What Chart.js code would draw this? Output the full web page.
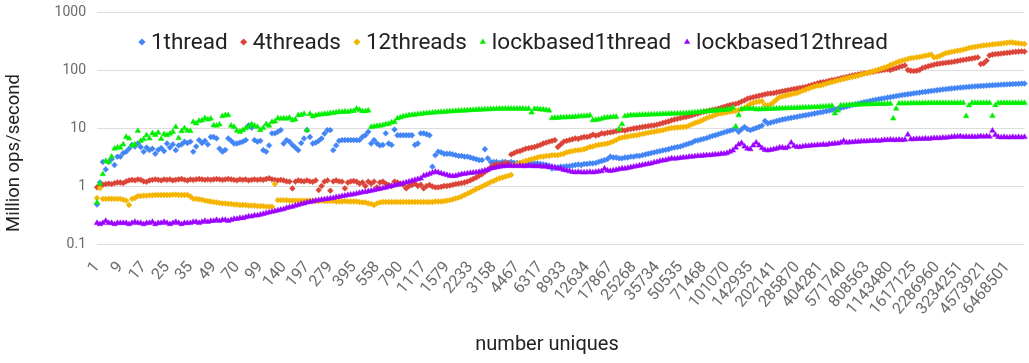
<!DOCTYPE html>
<html>
<head>
<meta charset="utf-8">
<title>Million ops/second vs number uniques</title>
<script src="https://cdn.jsdelivr.net/npm/chart.js"></script>
<style>
    body { margin: 0; background: #ffffff; }
    #wrap { width: 1029px; height: 363px; }
</style>
</head>
<body>
<div id="wrap"><canvas id="opsChart" width="1029" height="363"></canvas></div>
<script>
// Tick labels shown on the x axis (one every 8 categories)
const tickLabels = ['1', '9', '17', '25', '35', '49', '70', '99', '140', '197', '279', '395', '558', '790',
    '1117', '1579', '2233', '3158', '4467', '6317', '8933', '12634', '17867', '25268', '35734', '50535',
    '71468', '101070', '142935', '202141', '285870', '404281', '571740', '808563', '1143480', '1617125',
    '2286960', '3234251', '4573921', '6468501'];
const labelEvery = 8;
const yTicks = [0.1, 1, 10, 100, 1000];

const seriesNames = ['1thread', '4threads', '12threads', 'lockbased1thread', 'lockbased12thread'];

// Million ops/second, one value per category
const thread1 = [
    0.48, 1.15, 2.6, 1.93, 2.6, 2.9, 2.3, 3.2,
    3.2, 3.7, 3.9, 4.4, 5.1, 4.8, 5.4, 4.7,
    3.9, 4.6, 4.15, 4.4, 3.6, 4.2, 4.5, 4.0,
    5.4, 4.6, 5.2, 4.15, 5.0, 5.2, 5.8, 5.5,
    5.8, 3.9, 4.8, 6.2, 5.5, 6.0, 5.2, 7.0,
    7.0, 6.6, 4.4, 3.9, 4.2, 6.6, 6.0, 5.4,
    5.4, 5.6, 5.8, 6.2, 11.1, 10.1, 6.2, 5.8,
    6.0, 4.15, 3.9, 5.0, 8.1, 8.1, 8.6, 9.2,
    5.4, 6.2, 5.8, 5.1, 4.6, 4.15, 5.5, 6.6,
    9.2, 7.0, 5.4, 5.6, 6.0, 6.6, 8.0, 9.2,
    9.2, 4.15, 5.0, 6.0, 6.2, 6.2, 6.2, 6.2,
    6.2, 6.2, 6.2, 7.0, 7.5, 8.6, 5.4, 6.2,
    5.4, 5.0, 5.1, 8.1, 5.4, 5.1, 9.4, 7.5,
    7.5, 7.5, 7.5, 7.5, 7.5, 5.1, 5.4, 8.1,
    8.1, 7.8, 7.5, 2.15, 3.4, 3.9, 3.8, 3.6,
    3.6, 3.6, 3.5, 3.4, 3.3, 3.3, 3.2, 3.2,
    3.1, 3.0, 2.9, 2.8, 2.8, 4.3, 3.0, 2.6,
    2.6, 2.6, 2.5, 2.6, 2.6, 2.5, 2.6, 2.5,
    2.5, 2.5, 2.5, 2.45, 2.5, 2.45, 2.45, 2.45,
    2.4, 2.35, 2.3, 2.25, 2.0, 2.05, 2.1, 2.15,
    2.15, 2.2, 2.2, 2.25, 2.3, 2.35, 2.3, 2.4,
    2.4, 2.45, 2.45, 2.5, 2.6, 2.7, 2.8, 2.9,
    3.2, 3.1, 3.1, 3.0, 3.0, 3.1, 3.1, 3.2,
    3.2, 3.3, 3.3, 3.4, 3.5, 3.6, 3.7, 3.8,
    3.9, 4.0, 4.1, 4.2, 4.3, 4.5, 4.6, 4.7,
    4.8, 5.0, 5.2, 5.4, 5.6, 6.0, 6.1, 6.3,
    6.5, 6.7, 7.0, 7.3, 7.5, 7.8, 8.1, 8.4,
    8.7, 9.0, 9.3, 9.8, 8.6, 9.5, 10.4, 9.6,
    9.2, 9.6, 10.0, 10.4, 11.0, 13.2, 12.0, 12.4,
    12.8, 13.2, 13.6, 14.0, 14.3, 14.6, 15.0, 15.3,
    15.6, 16.0, 16.3, 16.6, 17.0, 17.4, 17.8, 18.2,
    18.6, 19.0, 19.5, 20.0, 20.5, 21.0, 21.6, 22.2,
    22.8, 23.5, 24.2, 25.0, 25.6, 26.2, 27.0, 27.8,
    28.5, 29.2, 30.0, 30.7, 31.4, 32.0, 32.7, 33.4,
    34.0, 34.8, 35.5, 36.2, 37.0, 37.6, 38.2, 38.8,
    39.5, 40.2, 40.8, 41.5, 42.2, 42.8, 43.5, 44.2,
    44.8, 45.5, 46.2, 46.8, 47.5, 48.0, 48.6, 49.2,
    49.8, 50.3, 50.8, 51.3, 51.8, 52.2, 52.6, 53.0,
    53.4, 53.8, 54.2, 54.6, 55.0, 55.4, 55.8, 56.2,
    56.5, 56.8, 57.2, 57.5, 57.8, 58.1, 58.4
];

const threads4 = [
    0.95, 1.0, 1.05, 1.08, 1.1, 1.08, 1.12, 1.15,
    1.15, 1.12, 1.2, 1.25, 1.28, 1.25, 1.3, 1.28,
    1.2, 1.18, 1.25, 1.28, 1.3, 1.28, 1.25, 1.3,
    1.28, 1.3, 1.25, 1.28, 1.3, 1.32, 1.28, 1.25,
    1.3, 1.28, 1.3, 1.32, 1.3, 1.28, 1.3, 1.28,
    1.3, 1.32, 1.3, 1.28, 1.3, 1.32, 1.3, 1.28,
    1.25, 1.3, 1.28, 1.3, 1.25, 1.28, 1.3, 1.28,
    1.3, 1.28, 1.32, 1.36, 1.3, 1.28, 1.25, 1.28,
    1.25, 1.2, 1.19, 0.91, 1.19, 1.25, 1.22, 1.2,
    1.25, 1.2, 1.18, 1.25, 0.85, 1.0, 1.19, 1.25,
    0.83, 1.2, 1.25, 1.2, 1.19, 0.91, 1.15, 1.2,
    1.22, 1.19, 1.1, 1.15, 1.0, 1.19, 1.1, 1.19,
    0.95, 1.15, 1.19, 1.1, 1.04, 1.0, 1.19, 1.15,
    1.1, 1.05, 0.91, 1.0, 1.04, 1.1, 1.0, 1.05,
    0.91, 1.0, 1.04, 0.98, 0.95, 0.95, 0.97, 1.0,
    1.0, 1.02, 1.05, 1.08, 1.1, 1.12, 1.15, 1.19,
    1.25, 1.32, 1.4, 1.5, 1.6, 1.75, 1.9, 2.1,
    2.3, 2.35, 2.3, 2.4, 2.45, 2.5, 3.5, 3.7,
    3.9, 4.0, 4.2, 4.4, 4.5, 4.6, 4.7, 4.9,
    5.1, 5.4, 5.6, 5.8, 6.0, 6.2, 4.7, 5.2,
    5.8, 6.0, 6.2, 6.4, 6.6, 6.5, 6.8, 7.0,
    7.0, 7.2, 7.7, 7.4, 7.6, 8.1, 8.0, 8.3,
    8.4, 8.6, 8.8, 9.0, 9.2, 9.0, 9.4, 9.6,
    9.8, 10.0, 10.2, 10.4, 10.6, 10.8, 11.0, 11.1,
    11.4, 11.8, 12.2, 12.6, 13.0, 13.6, 14.0, 14.4,
    14.8, 15.2, 15.5, 16.0, 16.6, 17.2, 17.8, 18.4,
    19.0, 19.5, 20.0, 20.5, 21.0, 21.6, 22.4, 23.2,
    24.0, 24.8, 25.5, 26.0, 27.0, 28.5, 30.0, 32.0,
    33.0, 34.0, 35.0, 36.0, 37.0, 38.0, 39.0, 39.5,
    40.0, 41.0, 42.0, 43.0, 44.0, 45.0, 46.0, 47.0,
    48.0, 49.0, 50.0, 51.0, 53.0, 55.0, 57.0, 59.0,
    61.0, 62.0, 63.0, 65.0, 67.0, 68.0, 70.0, 72.0,
    74.0, 76.0, 78.0, 80.0, 82.0, 84.0, 86.0, 88.0,
    89.0, 91.0, 93.0, 95.0, 97.0, 99.0, 101.0, 103.0,
    100, 104, 108, 112, 116, 120, 100, 97,
    96, 97, 100, 108, 112, 116, 120, 124,
    127, 129, 131, 133, 135, 137, 140, 143,
    146, 149, 152, 155, 158, 162, 165, 127,
    130, 145, 178, 185, 188, 190, 192, 195,
    198, 200, 204, 206, 208, 210, 208
];

const threads12 = [
    0.62, 0.92, 0.6, 0.6, 0.6, 0.6, 0.6, 0.6,
    0.6, 0.58, 0.56, 0.47, 0.6, 0.62, 0.67, 0.67,
    0.68, 0.68, 0.69, 0.69, 0.70, 0.70, 0.70, 0.70,
    0.70, 0.70, 0.71, 0.71, 0.70, 0.70, 0.70, 0.70,
    0.66, 0.60, 0.60, 0.59, 0.58, 0.56, 0.55, 0.54,
    0.53, 0.52, 0.51, 0.50, 0.50, 0.49, 0.49, 0.48,
    0.48, 0.47, 0.47, 0.47, 0.46, 0.46, 0.46, 0.45,
    0.45, 0.45, 0.44, 0.44, 0.44, 1.08, 0.57, 0.57,
    0.57, 0.57, 0.56, 0.56, 0.56, 0.56, 0.56, 0.56,
    0.56, 0.56, 0.56, 0.55, 0.55, 0.56, 0.55, 0.55,
    0.55, 0.55, 0.54, 0.54, 0.54, 0.55, 0.54, 0.54,
    0.54, 0.54, 0.53, 0.52, 0.52, 0.50, 0.49, 0.47,
    0.50, 0.52, 0.53, 0.53, 0.53, 0.53, 0.53, 0.53,
    0.53, 0.53, 0.53, 0.53, 0.53, 0.53, 0.53, 0.53,
    0.53, 0.53, 0.53, 0.53, 0.54, 0.54, 0.54, 0.55,
    0.56, 0.57, 0.59, 0.61, 0.63, 0.66, 0.70, 0.74,
    0.78, 0.83, 0.88, 0.93, 0.98, 1.04, 1.1, 1.17,
    1.22, 1.3, 1.36, 1.4, 1.45, 1.5, 1.55, 2.3,
    2.4, 2.5, 2.6, 2.7, 2.8, 2.9, 3.0, 3.1,
    3.2, 3.2, 3.3, 3.3, 3.4, 3.4, 3.4, 3.5,
    3.6, 3.8, 3.9, 4.0, 4.1, 4.15, 4.2, 4.3,
    4.5, 4.7, 4.8, 5.0, 5.1, 5.2, 5.3, 5.4,
    5.6, 5.9, 6.2, 6.6, 6.8, 7.0, 7.1, 7.3,
    7.4, 7.5, 7.7, 7.9, 8.1, 8.3, 8.5, 8.6,
    8.8, 9.0, 9.2, 9.5, 9.8, 10.0, 10.1, 10.2,
    10.3, 10.4, 10.5, 11.0, 11.6, 12.2, 12.7, 13.2,
    14.0, 14.8, 15.5, 16.0, 16.8, 17.5, 17.8, 18.2,
    18.6, 19.0, 19.4, 19.8, 20.5, 21.2, 22.0, 24.0,
    26.0, 27.0, 28.0, 28.5, 29.0, 25.0, 24.6, 25.5,
    28.0, 31.0, 34.0, 35.0, 36.0, 37.0, 38.0, 39.0,
    40.0, 42.0, 44.0, 46.0, 48.0, 50.0, 52.0, 53.5,
    54.0, 56.0, 58.0, 60.0, 62.0, 64.0, 66.0, 68.0,
    70.0, 72.0, 74.0, 76.0, 78.0, 80.0, 83.0, 86.0,
    89.0, 92.0, 95.0, 98.0, 102, 106, 110, 114,
    122, 128, 134, 140, 145, 150, 155, 160,
    162, 165, 168, 172, 176, 180, 185, 165,
    168, 175, 185, 195, 200, 205, 210, 215,
    218, 225, 232, 240, 245, 250, 255, 260,
    265, 268, 272, 276, 280, 283, 286, 290,
    295, 300, 298, 292, 288, 284, 282
];

const lockbased1 = [
    0.52, 1.1, 1.6, 2.7, 2.6, 3.2, 4.4, 4.6,
    4.6, 5.2, 7.0, 6.6, 5.0, 5.2, 8.9, 6.0,
    6.4, 7.5, 6.6, 8.1, 7.6, 8.3, 6.5, 7.8,
    7.5, 8.0, 8.6, 10.4, 6.7, 8.8, 9.9, 9.0,
    8.9, 12.7, 12.0, 13.2, 13.5, 14.7, 14.0, 14.5,
    11.1, 11.0, 11.5, 16.0, 16.6, 16.6, 11.0, 10.4,
    9.0, 8.6, 9.2, 9.9, 10.5, 11.6, 11.0, 10.4,
    9.2, 10.0, 11.6, 11.0, 12.7, 13.0, 14.7, 14.5,
    14.7, 14.5, 15.0, 13.6, 14.0, 16.6, 16.8, 17.5,
    9.2, 17.5, 15.9, 16.5, 17.0, 17.2, 17.5, 17.5,
    18.0, 18.2, 18.5, 18.9, 19.0, 19.2, 19.0, 19.5,
    19.7, 21.5, 20.5, 19.5, 19.5, 20.0, 10.4, 10.6,
    10.8, 11.0, 11.2, 11.6, 11.8, 12.5, 12.7, 14.6,
    15.2, 15.8, 16.2, 16.6, 16.8, 17.0, 17.3, 17.5,
    17.8, 18.0, 18.2, 18.4, 18.6, 18.7, 18.9, 19.0,
    19.2, 19.4, 19.5, 19.7, 19.8, 20.0, 20.0, 20.2,
    20.3, 20.5, 20.6, 20.8, 20.8, 21.0, 21.0, 21.2,
    21.3, 21.4, 21.5, 21.5, 21.6, 21.6, 21.6, 21.6,
    21.6, 21.5, 21.6, 21.4, 21.5, 18.5, 21.4, 21.3,
    21.0, 20.8, 20.5, 20.0, 14.8, 15.0, 15.0, 15.2,
    15.2, 15.3, 15.4, 15.5, 15.6, 15.8, 16.0, 16.0,
    16.2, 16.5, 13.6, 13.8, 14.0, 14.5, 15.0, 15.2,
    15.4, 15.5, 15.6, 9.6, 11.6, 16.0, 16.3, 16.6,
    16.6, 16.7, 16.8, 16.9, 17.0, 17.0, 17.1, 17.2,
    17.2, 17.3, 17.4, 17.5, 17.6, 17.7, 17.7, 17.8,
    17.8, 17.9, 18.0, 18.2, 18.4, 18.6, 18.8, 19.0,
    19.2, 19.4, 19.6, 19.8, 20.0, 20.2, 20.4, 20.6,
    20.8, 21.0, 22.4, 10.6, 16.6, 21.2, 21.4, 21.6,
    21.6, 21.5, 21.0, 21.0, 21.2, 21.2, 21.3, 21.4,
    21.5, 21.6, 21.7, 21.8, 21.9, 22.0, 22.1, 22.2,
    22.3, 22.4, 22.5, 22.6, 22.7, 22.8, 22.9, 23.0,
    23.2, 23.4, 23.6, 23.8, 24.0, 17.8, 20.0, 24.5,
    24.6, 24.8, 25.0, 25.0, 25.2, 25.3, 25.4, 25.5,
    25.6, 25.7, 25.8, 25.9, 26.0, 26.0, 26.1, 26.2,
    26.2, 14.6, 21.6, 26.5, 26.5, 26.6, 26.6, 26.7,
    26.8, 26.8, 26.8, 26.9, 26.9, 27.0, 27.0, 27.0,
    27.0, 27.0, 27.0, 27.0, 27.0, 27.0, 27.0, 27.0,
    27.0, 27.0, 16.0, 24.6, 27.0, 27.0, 27.0, 27.0,
    27.0, 27.0, 27.0, 16.1, 24.6, 27.0, 27.0, 27.0,
    27.0, 27.0, 27.0, 27.0, 27.0, 27.0, 27.0
];

const lockbased12 = [
    0.23, 0.22, 0.23, 0.25, 0.23, 0.23, 0.22, 0.23,
    0.23, 0.23, 0.23, 0.22, 0.23, 0.24, 0.23, 0.23,
    0.22, 0.23, 0.23, 0.24, 0.22, 0.23, 0.23, 0.24,
    0.23, 0.22, 0.23, 0.24, 0.23, 0.22, 0.23, 0.23,
    0.23, 0.24, 0.24, 0.23, 0.24, 0.25, 0.24, 0.25,
    0.25, 0.26, 0.25, 0.26, 0.26, 0.25, 0.26, 0.27,
    0.27, 0.28, 0.28, 0.29, 0.30, 0.30, 0.31, 0.31,
    0.32, 0.33, 0.34, 0.35, 0.36, 0.37, 0.38, 0.39,
    0.40, 0.42, 0.43, 0.44, 0.46, 0.47, 0.49, 0.50,
    0.52, 0.53, 0.54, 0.56, 0.57, 0.58, 0.59, 0.60,
    0.61, 0.62, 0.64, 0.65, 0.67, 0.68, 0.70, 0.71,
    0.72, 0.74, 0.76, 0.78, 0.79, 0.81, 0.83, 0.85,
    0.87, 0.89, 0.92, 0.94, 0.97, 1.0, 1.02, 1.05,
    1.08, 1.12, 1.15, 1.19, 1.23, 1.27, 1.31, 1.35,
    1.5, 1.55, 1.62, 1.7, 1.76, 1.72, 1.65, 1.6,
    1.55, 1.5, 1.48, 1.5, 1.55, 1.6, 1.62, 1.65,
    1.68, 1.7, 1.72, 1.75, 1.8, 1.85, 1.9, 2.0,
    2.05, 2.1, 2.15, 2.2, 2.2, 2.25, 2.2, 2.25,
    2.2, 2.25, 2.2, 2.2, 2.25, 2.2, 2.2, 2.2,
    2.2, 2.15, 2.2, 2.1, 2.15, 2.1, 2.0, 2.0,
    1.9, 1.85, 1.8, 1.75, 1.72, 1.75, 1.72, 1.72,
    1.72, 1.75, 1.72, 1.75, 1.78, 1.8, 2.0, 1.85,
    1.82, 1.85, 1.9, 1.95, 2.0, 2.0, 2.05, 2.1,
    2.15, 2.2, 2.25, 2.3, 2.35, 2.4, 2.45, 2.55,
    2.6, 2.7, 2.75, 2.8, 2.9, 3.0, 2.95, 3.0,
    3.05, 3.1, 3.1, 3.2, 3.2, 3.25, 3.3, 3.3,
    3.35, 3.4, 3.4, 3.45, 3.5, 3.5, 3.6, 3.6,
    3.7, 3.9, 4.1, 4.6, 5.2, 5.5, 4.8, 4.4,
    4.3, 5.0, 5.6, 5.0, 4.5, 4.2, 4.1, 4.2,
    4.3, 4.4, 4.6, 4.6, 4.5, 4.7, 5.6, 4.9,
    4.7, 4.7, 4.8, 4.9, 4.9, 5.0, 5.0, 5.1,
    5.1, 5.2, 5.1, 5.3, 5.3, 5.4, 5.4, 5.6,
    6.0, 5.6, 5.7, 5.7, 5.8, 5.8, 5.9, 5.9,
    5.9, 6.0, 6.0, 6.1, 6.0, 6.1, 6.2, 6.2,
    6.3, 6.2, 6.2, 6.3, 6.2, 6.3, 7.7, 6.4,
    6.4, 6.5, 6.5, 6.5, 6.6, 6.5, 6.6, 6.7,
    6.7, 6.7, 6.8, 6.8, 6.9, 7.0, 7.1, 7.1,
    7.2, 7.0, 7.1, 7.0, 7.1, 7.0, 7.1, 7.2,
    7.1, 7.2, 7.1, 9.0, 7.6, 7.0, 6.9, 7.0,
    6.9, 6.9, 7.0, 6.9, 7.0, 6.9, 7.0
];

const seriesColors = ['#4285f4', '#db4437', '#f4b400', '#00ee00', '#9b00ff'];
const seriesShapes = ['rectRot', 'rectRot', 'rectRot', 'triangle', 'triangle'];
const yTitle = 'Million ops/second';
const xTitle = 'number uniques';

// Category per point; only every 8th one carries a visible label
const categories = thread1.map((_, i) => (i % labelEvery === 0 ? (tickLabels[i / labelEvery] || '') : ''));

const allSeries = [thread1, threads4, threads12, lockbased1, lockbased12];

const datasets = allSeries.map((values, i) => ({
    label: seriesNames[i],
    data: values,
    showLine: false,
    pointStyle: seriesShapes[i],
    pointRadius: seriesShapes[i] === 'triangle' ? 3.2 : 2.9,
    pointBackgroundColor: seriesColors[i],
    pointBorderColor: seriesColors[i],
    pointBorderWidth: 0.5,
    backgroundColor: seriesColors[i],
    borderColor: seriesColors[i],
    order: allSeries.length - i // later series drawn on top, as in the original
}));

// Draws the legend inside the plot plus both axis titles at fixed spots
const overlayPlugin = {
    id: 'overlay',
    afterDraw(chart) {
        const ctx = chart.ctx;
        ctx.save();

        // y axis title
        ctx.fillStyle = '#222222';
        ctx.font = '18.5px Roboto';
        ctx.textAlign = 'center';
        ctx.textBaseline = 'middle';
        ctx.save();
        ctx.translate(14, 153);
        ctx.rotate(-Math.PI / 2);
        ctx.fillText(yTitle, 0, 0);
        ctx.restore();

        // x axis title
        ctx.font = '20px Roboto';
        ctx.fillText(xTitle, 547, 345);

        // legend
        ctx.font = '22.5px Roboto';
        ctx.textAlign = 'left';
        const markerToText = 9;
        const itemGap = 16;
        const widths = seriesNames.map(n => ctx.measureText(n).width);
        let total = 4;
        widths.forEach((w, i) => { total += markerToText + w + (i < widths.length - 1 ? itemGap : 0); });
        let x = 513 - total / 2 + 4;
        const y = 42;
        seriesNames.forEach((name, i) => {
            ctx.fillStyle = seriesColors[i];
            ctx.strokeStyle = seriesColors[i];
            Chart.helpers.drawPoint(ctx, { pointStyle: seriesShapes[i], radius: 3.6, rotation: 0, borderWidth: 0 }, x, y);
            ctx.fillStyle = '#222222';
            ctx.fillText(name, x + markerToText, y + 1);
            x += markerToText + widths[i] + itemGap;
        });
        ctx.restore();
    }
};

const ctx = document.getElementById('opsChart').getContext('2d');
const chart = new Chart(ctx, {
    type: 'line',
    data: { labels: categories, datasets: datasets },
    plugins: [overlayPlugin],
    options: {
        responsive: false,
        animation: false,
        layout: { padding: { left: 0, right: 3.5, top: 12, bottom: 0 } },
        plugins: {
            legend: { display: false },
            tooltip: { enabled: false }
        },
        scales: {
            x: {
                type: 'category',
                offset: false,
                grid: { display: false },
                border: { display: false },
                ticks: {
                    autoSkip: false,
                    minRotation: 50,
                    maxRotation: 50,
                    padding: 6,
                    color: '#6b6b6b',
                    font: { family: 'Roboto', size: 16 },
                    callback: function(value, index) { return categories[index]; }
                },
                afterFit: scale => {
                    scale.height = 119;
                    scale.paddingLeft = 0;
                    scale.paddingRight = 0;
                }
            },
            y: {
                type: 'logarithmic',
                min: 0.1,
                max: 1000,
                grid: { color: '#dddddd', lineWidth: 1, drawTicks: false },
                border: { display: false },
                ticks: {
                    padding: 11,
                    color: '#6b6b6b',
                    font: { family: 'Roboto', size: 14 },
                    callback: value => String(value)
                },
                afterBuildTicks: scale => { scale.ticks = yTicks.map(v => ({ value: v })); },
                afterFit: scale => {
                    scale.width = 97;
                    scale.paddingTop = 0;
                    scale.paddingBottom = 0;
                }
            }
        }
    }
});
</script>
</body>
</html>
